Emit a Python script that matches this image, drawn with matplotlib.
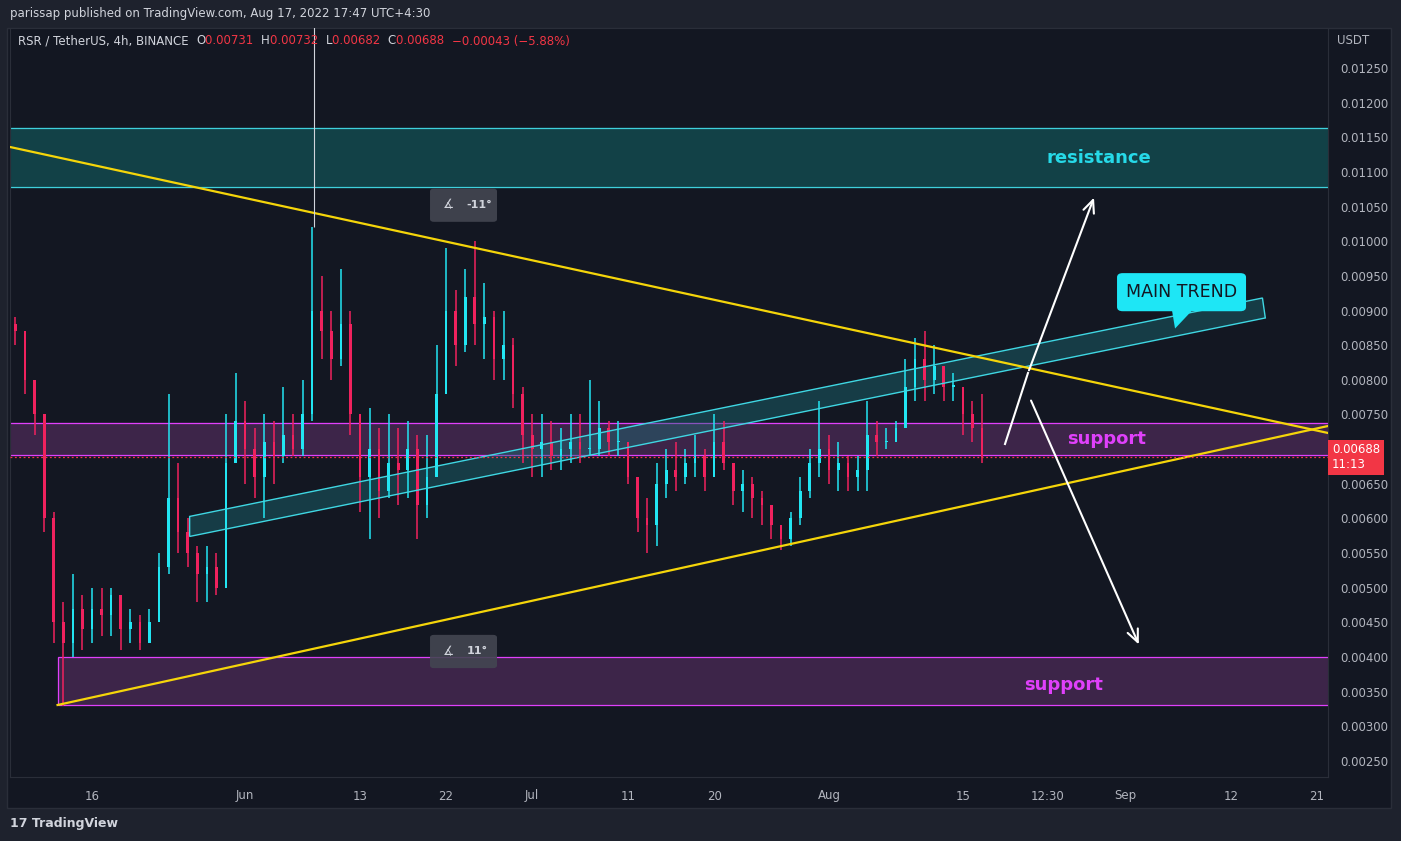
import matplotlib
matplotlib.use("Agg")
import matplotlib.pyplot as plt
from matplotlib.patches import Polygon, FancyBboxPatch, Rectangle
import numpy as np

# ---- data (day index, 0 = May 16 2022) ----
days = list(range(-8, 94))
closes = [0.0087,0.0080,0.0075,0.0060,0.0045,0.0042,0.0047,0.0044,0.0047,0.0046,0.0049,0.0044,0.0045,0.0042,0.0045,0.0053,
          0.0063,0.0058,0.0055,0.0052,0.0053,0.0050,0.0068,0.0074,0.0070,0.0066,0.0071,0.0069,0.0072,0.0070,0.0075,0.0090,
          0.0087,0.0083,0.0088,0.0075,0.0066,0.0070,0.0064,0.0068,0.0067,0.0070,0.0062,0.0066,0.0078,0.0090,0.0085,0.0092,
          0.0088,0.0089,0.0083,0.0085,0.0078,0.0072,0.0070,0.0071,0.0069,0.0070,0.0071,0.0070,0.0070,0.0073,0.0071,0.0071,
          0.0066,0.0060,0.0059,0.0065,0.0067,0.0066,0.0068,0.0069,0.0066,0.0071,0.0068,0.0064,0.0065,0.0063,0.0062,0.0059,
          0.0057,0.0060,0.0064,0.0068,0.0070,0.0067,0.0068,0.0066,0.0067,0.0072,0.0071,0.0071,0.0073,0.0079,0.0083,0.0080,
          0.0082,0.0079,0.0079,0.0075,0.0073,0.00688]
highs = [0.0089,0.0087,0.0080,0.0075,0.0061,0.0048,0.0052,0.0049,0.0050,0.0050,0.0050,0.0048,0.0047,0.0046,0.0047,0.0055,
         0.0078,0.0068,0.0060,0.0056,0.0056,0.0055,0.0075,0.0081,0.0077,0.0073,0.0075,0.0074,0.0079,0.0075,0.0080,0.0102,
         0.0095,0.0090,0.0096,0.0090,0.0075,0.0076,0.0073,0.0075,0.0073,0.0074,0.0072,0.0072,0.0085,0.0099,0.0093,0.0096,
         0.0100,0.0094,0.0090,0.0090,0.0086,0.0079,0.0075,0.0075,0.0074,0.0073,0.0075,0.0075,0.0080,0.0077,0.0074,0.0074,
         0.0071,0.0066,0.0063,0.0068,0.0070,0.0071,0.0070,0.0072,0.0070,0.0075,0.0074,0.0068,0.0067,0.0066,0.0064,0.0062,
         0.0059,0.0061,0.0066,0.0070,0.0077,0.0072,0.0071,0.0069,0.0069,0.0077,0.0074,0.0073,0.0074,0.0083,0.0086,0.0087,
         0.0085,0.0082,0.0081,0.0078,0.0077,0.0078]
lows = [0.0085,0.0078,0.0072,0.0058,0.0042,0.0033,0.0040,0.0041,0.0042,0.0043,0.0043,0.0041,0.0042,0.0041,0.0042,0.0045,
        0.0052,0.0055,0.0053,0.0048,0.0048,0.0049,0.0050,0.0068,0.0065,0.0063,0.0060,0.0065,0.0068,0.0069,0.0069,0.0074,
        0.0083,0.0080,0.0082,0.0072,0.0061,0.0057,0.0060,0.0063,0.0062,0.0063,0.0057,0.0060,0.0066,0.0082,0.0082,0.0084,
        0.0085,0.0083,0.0080,0.0080,0.0076,0.0068,0.0066,0.0066,0.0067,0.0067,0.0068,0.0068,0.0069,0.0069,0.0069,0.0069,
        0.0065,0.0058,0.0055,0.0056,0.0063,0.0064,0.0065,0.0066,0.0064,0.0068,0.0067,0.0062,0.0061,0.0060,0.0059,0.0057,
        0.00555,0.0056,0.0059,0.0063,0.0066,0.0065,0.0064,0.0064,0.0064,0.0064,0.0069,0.0070,0.0071,0.0075,0.0077,0.0077,
        0.0078,0.0077,0.0077,0.0072,0.0071,0.0068]
opens = [0.0088] + closes[:-1]

xtick_pos = [0, 16, 28, 37, 46, 56, 65, 77, 91, 99.8, 108, 119, 128]
xtick_labels = ["16", "Jun", "13", "22", "Jul", "11", "20", "Aug", "15", "12:30", "Sep", "12", "21"]
yticks = [0.0025 + 0.0005 * i for i in range(21)]
last_price = 0.00688

# drawings (day, price)
resistance = (0.010783, 0.011634)
support_hi = (0.006916, 0.007377)
support_lo = (0.003308, 0.0040, -3.6)
down_line = [(-8.57, 0.01136), (129.15, 0.007233)]
up_line = [(-3.6, 0.003308), (129.15, 0.007334)]
channel = [(10.2, 0.006029), (10.2, 0.005740), (122.6, 0.008893), (122.3, 0.009181)]
arrow_up = [(95.4, 0.007074), (97.8, 0.008099), (104.8, 0.010667)]
arrow_dn = [(98.0, 0.007738), (109.5, 0.004145)]

BG = "#131722"
fig = plt.figure(figsize=(14.01, 8.41), dpi=100, facecolor="#1e222d")
fig.patches.append(Rectangle((7/1401, 33/841), 1384/1401, 780/841, transform=fig.transFigure,
                             facecolor=BG, edgecolor="#2a2e39", lw=1, zorder=-5))
ax = fig.add_axes([10/1401, 1 - 777/841, 1318/1401, 749/841])
ax.set_zorder(2)
ax.set_facecolor(BG)
ax.set_xlim(-8.57, 129.15)
ax.set_ylim(0.002269, 0.013077)
for s in ax.spines.values():
    s.set_color("#2a2e39")

UP, DN = "#22e5f2", "#f0225e"
# zones
ax.axhspan(*resistance, color="#124147", zorder=1)
for y in resistance:
    ax.axhline(y, color="#3fd0dc", lw=0.9, zorder=2)
ax.axhspan(*support_hi, color="#3d2549", zorder=1)
for y in support_hi:
    ax.axhline(y, color="#e040fb", lw=0.9, zorder=2)
ax.add_patch(Rectangle((support_lo[2], support_lo[0]), 140, support_lo[1]-support_lo[0],
                       facecolor="#3d2549", edgecolor="#e040fb", lw=0.9, zorder=1))

# candles
for d, o, h, l, c in zip(days, opens, highs, lows, closes):
    col = UP if c >= o else DN
    ax.vlines(d, l, h, color=col, lw=1.1, zorder=4)
    ax.bar(d, abs(c - o) or 0.00002, bottom=min(o, c), width=0.28, color=col, zorder=4, lw=0)

# channel
ax.add_patch(Polygon(channel, closed=True, facecolor="#1b6a72", alpha=0.45, edgecolor="none", zorder=3))
ax.add_patch(Polygon(channel, closed=True, facecolor="none", edgecolor="#3fd7e3", lw=1, zorder=5))

# trend lines
ax.plot(*zip(*down_line), color="#f5d50a", lw=1.6, zorder=6)
ax.plot(*zip(*up_line), color="#f5d50a", lw=1.6, zorder=6)

# crosshair vertical
ax.vlines(23.2, 0.0102, 0.0131, color="#d1d4dc", lw=0.8, zorder=6)

# last price line
ax.axhline(last_price, color="#f23645", lw=0.9, ls=(0, (1.5, 2)), zorder=6)

# arrows
ax.plot(*zip(*arrow_up[:2]), color="white", lw=1.5, zorder=7)
ax.annotate("", xy=arrow_up[2], xytext=arrow_up[1],
            arrowprops=dict(arrowstyle="->,head_length=0.9,head_width=0.4", color="white", lw=1.5), zorder=7)
ax.annotate("", xy=arrow_dn[1], xytext=arrow_dn[0],
            arrowprops=dict(arrowstyle="->,head_length=0.9,head_width=0.4", color="white", lw=1.5), zorder=7)

# texts
ax.text(105.2, 0.01120, "resistance", color="#26d9e8", fontsize=13, fontweight="bold", ha="center", va="center", zorder=8)
ax.text(106.0, 0.00714, "support", color="#e040fb", fontsize=13, fontweight="bold", ha="center", va="center", zorder=8)
ax.text(101.5, 0.00359, "support", color="#e040fb", fontsize=13, fontweight="bold", ha="center", va="center", zorder=8)

# MAIN TREND callout
bx0, bx1 = (1117-92)/9.57, (1246-92)/9.57
ax.add_patch(FancyBboxPatch((bx0, 0.00899), bx1-bx0, 0.00055, boxstyle="round,pad=0,rounding_size=0.6",
                            facecolor="#1ee6f5", edgecolor="none", zorder=8, mutation_aspect=0.0001))
ax.add_patch(Polygon([((1172-92)/9.57, 0.00900), ((1192-92)/9.57, 0.00900), ((1175-92)/9.57, 0.00874)],
                     facecolor="#1ee6f5", edgecolor="none", zorder=8))
ax.text((bx0+bx1)/2, 0.009265, "MAIN TREND", color="#131722", fontsize=12.5, ha="center", va="center", zorder=9)

# angle labels
for (xl, yc, t) in [((430-92)/9.57, 0.01052, "-11°"), ((430-92)/9.57, 0.00408, "11°")]:
    ax.add_patch(FancyBboxPatch((xl, yc-0.00024), 67/9.57, 0.00048, boxstyle="round,pad=0,rounding_size=0.4",
                                facecolor="#434651", alpha=0.9, edgecolor="none", zorder=8, mutation_aspect=0.0001))
    ax.text(xl + 1.3, yc, "∡", color="#d1d4dc", fontsize=9, va="center", zorder=9)
    ax.text(xl + 3.8, yc, t, color="#d1d4dc", fontsize=8, va="center", fontweight="bold", zorder=9)

# axes ticks
ax.yaxis.tick_right()
ax.set_yticks(yticks)
ax.set_yticklabels(["" if abs(v - 0.007) < 1e-9 else f"{v:.5f}" for v in yticks])
ax.set_xticks(xtick_pos)
ax.set_xticklabels(xtick_labels)
ax.tick_params(colors="#b2b5be", labelsize=8.5, length=0, pad=9)

# last price tag
ax.text(1.003, (last_price-0.002269)/(0.013077-0.002269), f"{last_price:.5f}\n11:13", transform=ax.transAxes,
        color="white", fontsize=8.5, va="center", ha="left", zorder=10, linespacing=1.2,
        bbox=dict(boxstyle="square,pad=0.3", facecolor="#f23645", edgecolor="none"))

# header / footer
fig.text(10/1401, 1-14/841, "parissap published on TradingView.com, Aug 17, 2022 17:47 UTC+4:30",
         color="#d1d4dc", fontsize=8.5, va="center")
fig.text(1337/1401, 1-41/841, "USDT", color="#b2b5be", fontsize=8.5, va="center")
parts = [("RSR / TetherUS, 4h, BINANCE  ", "#d1d4dc"), ("O", "#d1d4dc"), ("0.00731  ", "#f23645"),
         ("H", "#d1d4dc"), ("0.00732  ", "#f23645"), ("L", "#d1d4dc"), ("0.00682  ", "#f23645"),
         ("C", "#d1d4dc"), ("0.00688  ", "#f23645"), ("−0.00043 (−5.88%)", "#f23645")]
x = 18/1401
renderer = fig.canvas.get_renderer()
for s, c in parts:
    t = fig.text(x, 1-41/841, s, color=c, fontsize=8.5, va="center", zorder=5)
    bb = t.get_window_extent(renderer=renderer)
    x += bb.width / 1401
fig.text(10/1401, 1-823/841, "17 TradingView", color="#d1d4dc", fontsize=9, va="center", fontweight="bold")

fig.savefig("out.png", dpi=100, facecolor=fig.get_facecolor())
